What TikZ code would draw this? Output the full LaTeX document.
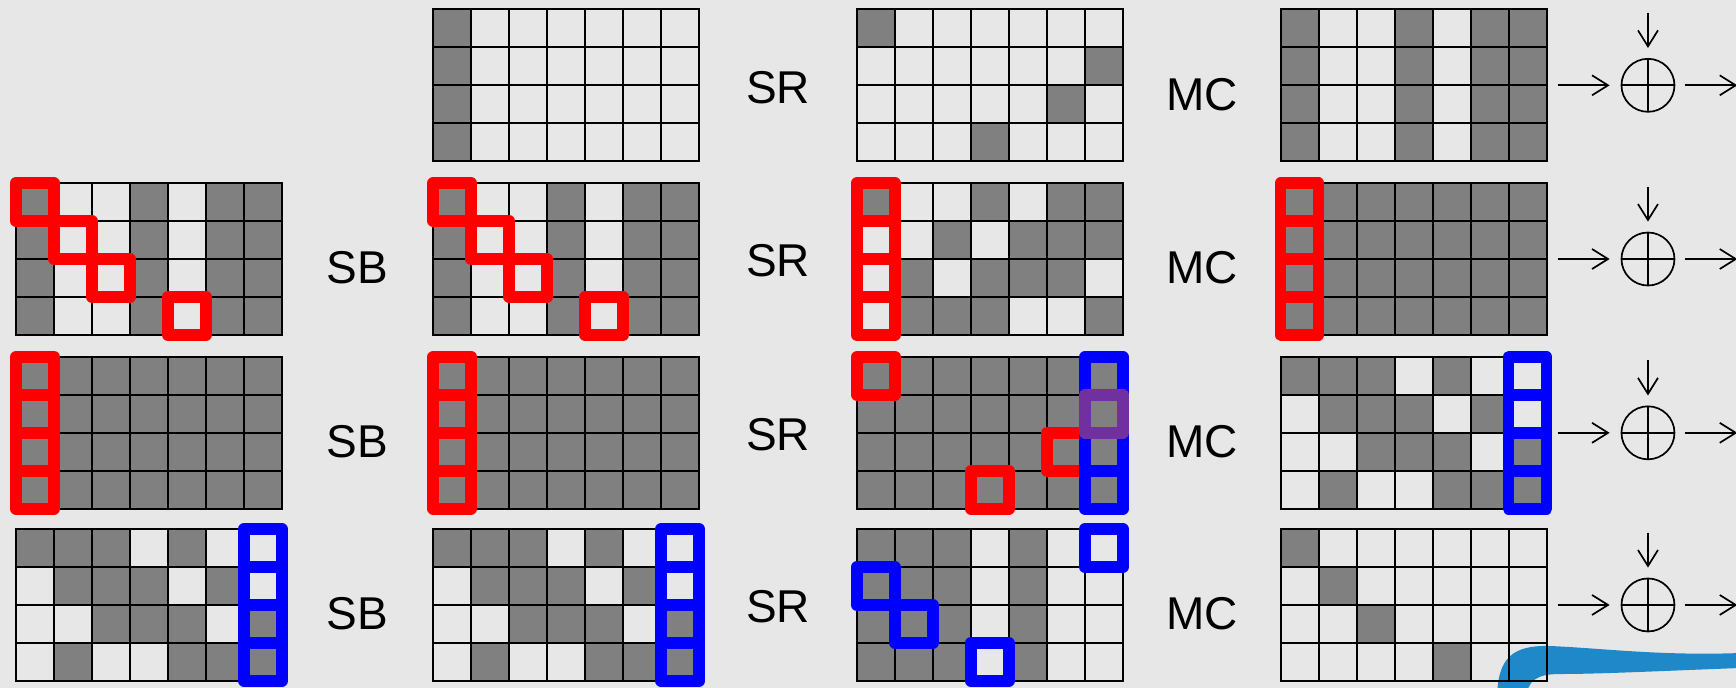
\documentclass[tikz,border=0pt]{standalone}
\usepackage{fontspec}
\setmainfont{Liberation Sans}
\usetikzlibrary{arrows.meta,positioning,calc}
\definecolor{paper}{HTML}{E7E7E7}
\definecolor{cellgray}{HTML}{808080}
\definecolor{trailred}{HTML}{FF0000}
\definecolor{trailblue}{HTML}{0000FF}
\definecolor{trailpurple}{HTML}{7030A0}
\definecolor{brush}{HTML}{1E88C8}

% shade a 7x4 state row by row, then draw its grid
\newcommand{\shadestate}[2]{%
  \begin{scope}[shift={(#1.north west)}]
    \foreach \rowbits [count=\ry from 0] in {#2}{%
      \foreach \bit [count=\cx from 0] in \rowbits
        {\ifnum\bit=1 \fill[cellgray] (\cx,-\ry) rectangle ++(1,-1);\fi}}
    \draw[gridline] (0,0) rectangle (7,-4);
    \foreach \cx in {1,...,6} \draw[gridline] (\cx,0) -- (\cx,-4);
    \foreach \ry in {1,2,3} \draw[gridline] (0,-\ry) -- (7,-\ry);
  \end{scope}}
% frame one cell (column, row) of a state
\newcommand{\hlcell}[4]{\draw[hlbox,#4] ($(#1.north west)+(#2,-#3)$) rectangle ++(1,-1);}

\begin{document}
\begin{tikzpicture}[x=19pt,y=19pt,
  state/.style={minimum width=133pt,minimum height=76pt,inner sep=0pt,outer sep=0pt},
  gridline/.style={line width=1pt,black},
  hlbox/.style={line width=5.75pt,line join=round},
  op/.style={font=\fontsize{23}{27}\selectfont,inner sep=0pt},
  xorop/.style={circle,draw,line width=.85pt,minimum size=26.5pt,inner sep=0pt,
    path picture={\draw[line width=.85pt] (path picture bounding box.north) -- (path picture bounding box.south)
      (path picture bounding box.west) -- (path picture bounding box.east);}},
  flow/.style={line width=.85pt,-{Straight Barb[length=8pt,width=10pt]}}
]
  \useasboundingbox (0,0) rectangle (45.684,-18.105);
  \fill[paper] (0,0) rectangle (45.684,-18.105);
  % brush stroke in the lower right corner (pixel units)
  \begin{scope}[x=.5pt,y=-.5pt]
    \fill[brush] (1497,700) .. controls (1497,658) and (1512,645) .. (1550,646)
      .. controls (1600,648) and (1660,656) .. (1740,653) -- (1740,668)
      .. controls (1660,671) and (1600,674) .. (1560,674)
      .. controls (1537,674) and (1527,680) .. (1526,700) -- cycle;
  \end{scope}

  % states
  \node[state] (sb1) at (14.90,-2.245) {};
  \node[state] (sr1) at (26.05,-2.245) {};
  \node[state] (mc1) at (37.20,-2.245) {};
  \foreach \k/\y in {2/-6.816,3/-11.39,4/-15.92}{
    \node[state] (in\k) at (3.92,\y) {};
    \node[state] (sb\k) at (14.90,\y) {};
    \node[state] (sr\k) at (26.05,\y) {};
    \node[state] (mc\k) at (37.20,\y) {};
  }

  \shadestate{sb1}{{1,0,0,0,0,0,0},{1,0,0,0,0,0,0},{1,0,0,0,0,0,0},{1,0,0,0,0,0,0}}
  \shadestate{sr1}{{1,0,0,0,0,0,0},{0,0,0,0,0,0,1},{0,0,0,0,0,1,0},{0,0,0,1,0,0,0}}
  \shadestate{mc1}{{1,0,0,1,0,1,1},{1,0,0,1,0,1,1},{1,0,0,1,0,1,1},{1,0,0,1,0,1,1}}

  \shadestate{in2}{{1,0,0,1,0,1,1},{1,0,0,1,0,1,1},{1,0,0,1,0,1,1},{1,0,0,1,0,1,1}}
  \shadestate{sb2}{{1,0,0,1,0,1,1},{1,0,0,1,0,1,1},{1,0,0,1,0,1,1},{1,0,0,1,0,1,1}}
  \shadestate{sr2}{{1,0,0,1,0,1,1},{0,0,1,0,1,1,1},{0,1,0,1,1,1,0},{0,1,1,1,0,0,1}}
  \shadestate{mc2}{{1,1,1,1,1,1,1},{1,1,1,1,1,1,1},{1,1,1,1,1,1,1},{1,1,1,1,1,1,1}}

  \shadestate{in3}{{1,1,1,1,1,1,1},{1,1,1,1,1,1,1},{1,1,1,1,1,1,1},{1,1,1,1,1,1,1}}
  \shadestate{sb3}{{1,1,1,1,1,1,1},{1,1,1,1,1,1,1},{1,1,1,1,1,1,1},{1,1,1,1,1,1,1}}
  \shadestate{sr3}{{1,1,1,1,1,1,1},{1,1,1,1,1,1,1},{1,1,1,1,1,1,1},{1,1,1,1,1,1,1}}
  \shadestate{mc3}{{1,1,1,0,1,0,0},{0,1,1,1,0,1,0},{0,0,1,1,1,0,1},{0,1,0,0,1,1,1}}

  \shadestate{in4}{{1,1,1,0,1,0,0},{0,1,1,1,0,1,0},{0,0,1,1,1,0,1},{0,1,0,0,1,1,1}}
  \shadestate{sb4}{{1,1,1,0,1,0,0},{0,1,1,1,0,1,0},{0,0,1,1,1,0,1},{0,1,0,0,1,1,1}}
  \shadestate{sr4}{{1,1,1,0,1,0,0},{1,1,1,0,1,0,0},{1,1,1,0,1,0,0},{1,1,1,0,1,0,0}}
  \shadestate{mc4}{{1,0,0,0,0,0,0},{0,1,0,0,0,0,0},{0,0,1,0,0,0,0},{0,0,0,0,1,0,0}}

  % red trail
  \foreach \g in {in2,sb2}{\foreach \cx/\ry in {0/0,1/1,2/2,4/3}{\hlcell{\g}{\cx}{\ry}{trailred}}}
  \foreach \g in {sr2,mc2,in3,sb3}{\foreach \ry in {0,...,3}{\hlcell{\g}{0}{\ry}{trailred}}}
  \foreach \cx/\ry in {0/0,5/2,3/3}{\hlcell{sr3}{\cx}{\ry}{trailred}}
  % blue trail
  \foreach \g in {sr3,mc3,in4,sb4}{\foreach \ry in {0,...,3}{\hlcell{\g}{6}{\ry}{trailblue}}}
  \hlcell{sr3}{6}{1}{trailpurple}
  \foreach \cx/\ry in {6/0,0/1,1/2,3/3}{\hlcell{sr4}{\cx}{\ry}{trailblue}}

  % operation labels
  \foreach \k in {2,3,4}
    \node[op] (lsb\k) at ($(in\k.east)!.5!(sb\k.west)+(0,-4.5pt)$) {SB};
  \foreach \k in {1,...,4}{
    \node[op] (lsr\k) at ($(sb\k.east)!.5!(sr\k.west)+(0,-1pt)$) {SR};
    \node[op] (lmc\k) at ($(sr\k.east)!.5!(mc\k.west)+(0,-4.5pt)$) {MC};
  }

  % key addition
  \foreach \k in {1,...,4}{
    \node[xorop,right=37pt of mc\k] (ak\k) {};
    \coordinate[above=22.5pt of ak\k.north] (key\k);
    \coordinate[right=31pt of ak\k.east] (out\k);
    \draw[flow,shorten <=5.5pt,shorten >=5.5pt] (mc\k.east) -- (ak\k.west);
    \draw[flow,shorten <=5pt] (ak\k.east) -- (out\k);
    \draw[flow,shorten >=5pt] (key\k) -- (ak\k.north);
  }
\end{tikzpicture}
\end{document}
